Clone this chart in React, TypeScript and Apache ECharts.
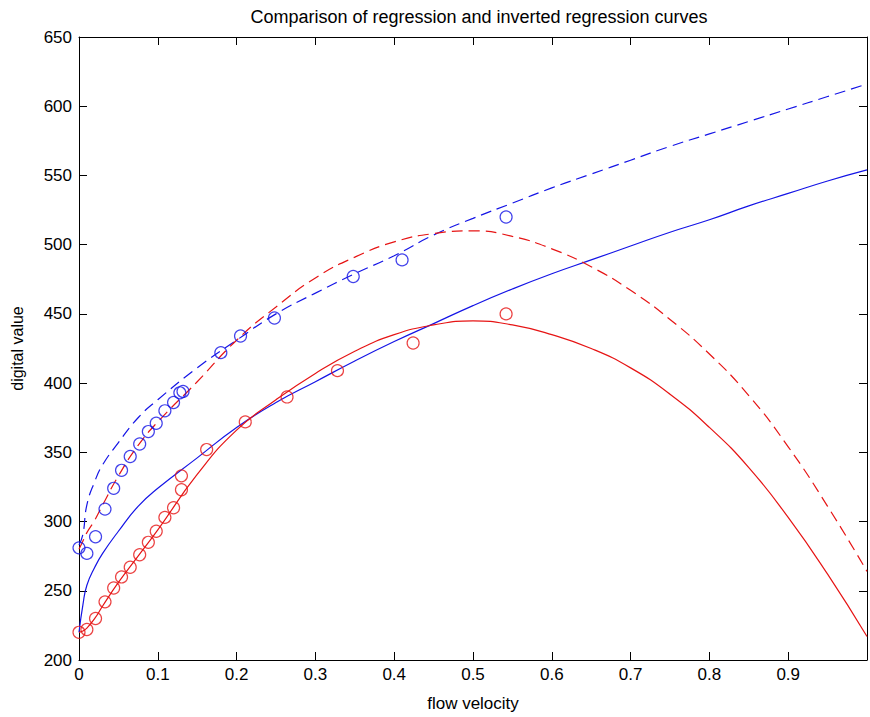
import React, { useEffect, useRef } from "react";
import * as echarts from "echarts";

// Curve sampling positions (flow velocity)
const curveX = [0, 0.005, 0.01, 0.02, 0.03, 0.05, 0.075, 0.1, 0.15, 0.2, 0.25, 0.3, 0.35, 0.4, 0.45, 0.5, 0.55, 0.6, 0.65, 0.7, 0.75, 0.8, 0.85, 0.9, 0.95, 1.0];
// Regression curves
const blueSolid = [220, 240, 254, 267, 277, 293, 311, 324, 346, 368, 386, 401, 416, 430, 443, 456, 468, 479, 489, 499, 509, 518, 528, 537, 546, 554];
const blueDashed = [283, 291, 312, 329, 341, 357, 375, 388, 411, 431, 450, 465, 479, 492, 507, 519, 530, 541, 551, 561, 571, 580, 589, 598, 607, 616];
const redSolid = [220, 221, 223, 230, 239, 256, 275, 294, 334, 366, 388, 407, 423, 435, 442, 445, 442, 435, 425, 411, 392, 368, 339, 303, 262, 217];
const redDashed = [280, 286, 292, 301, 312, 333, 355, 372, 401, 431, 455, 476, 491, 502, 508, 510, 506, 497, 484, 467, 446, 421, 391, 354, 311, 264];

// Measured points
const blueX = [0, 0.01, 0.021, 0.033, 0.044, 0.054, 0.065, 0.077, 0.088, 0.098, 0.109, 0.12, 0.128, 0.132, 0.18, 0.205, 0.248, 0.348, 0.41, 0.542];
const blueY = [281, 277, 289, 309, 324, 337, 347, 356, 365, 371, 380, 386, 393, 394, 422, 434, 447, 477, 489, 520];
const redX = [0, 0.01, 0.021, 0.033, 0.044, 0.054, 0.065, 0.077, 0.088, 0.098, 0.109, 0.12, 0.13, 0.13, 0.162, 0.211, 0.264, 0.328, 0.424, 0.542];
const redY = [220, 222, 230, 242, 252, 260, 267, 276, 285, 293, 303, 310, 323, 333, 352, 372, 390, 409, 429, 450];

const BLUE = "#1414e6";
const RED = "#e61414";
const FONT = "Liberation Sans";

const pairs = (xs: number[], ys: number[]) => xs.map((x, i) => [x, ys[i]]);

export default function App() {
  const ref = useRef<HTMLDivElement>(null);
  useEffect(() => {
    if (!ref.current) return;
    const chart = echarts.init(ref.current, undefined, { renderer: "svg" });
    const axisLine = { show: true, onZero: false, lineStyle: { color: "#000", width: 1 } };
    const axisTick = { show: true, inside: true, length: 8, lineStyle: { color: "#000", width: 1 } };
    const lineSeries = (data: number[], color: string, dashed: boolean) => ({
      type: "line",
      data: pairs(curveX, data),
      showSymbol: false,
      symbol: "none",
      smooth: 0.5,
      lineStyle: { color, width: 1.2, type: dashed ? [11, 6] : "solid" },
      z: 2,
    });
    const scatterSeries = (xs: number[], ys: number[], color: string) => ({
      type: "scatter",
      data: pairs(xs, ys),
      symbol: "circle",
      symbolSize: 12,
      itemStyle: { color: "rgba(0,0,0,0)", borderColor: color, borderWidth: 1.2 },
      z: 3,
    });
    chart.setOption({
      animation: false,
      backgroundColor: "#fff",
      textStyle: { fontFamily: FONT },
      title: {
        text: "Comparison of regression and inverted regression curves",
        left: 474,
        textAlign: "center",
        top: 3,
        textStyle: { fontFamily: FONT, fontSize: 18, fontWeight: "normal", color: "#000" },
      },
      grid: { left: 79, top: 37, width: 795, height: 626 },
      xAxis: [
        {
          type: "value",
          min: 0,
          max: 1,
          interval: 0.1,
          position: "bottom",
          axisLine,
          axisTick,
          splitLine: { show: false },
          axisLabel: {
            color: "#000",
            fontSize: 17,
            fontFamily: FONT,
            margin: 6,
            formatter: (v: number) => (v >= 0.999 ? "" : String(Math.round(v * 10) / 10)),
          },
          name: "flow velocity",
          nameLocation: "middle",
          nameGap: 35,
          nameTextStyle: { color: "#000", fontSize: 17, fontFamily: FONT },
        },
        {
          type: "value",
          min: 0,
          max: 1,
          interval: 0.1,
          position: "top",
          axisLine,
          axisTick,
          splitLine: { show: false },
          axisLabel: { show: false },
        },
      ],
      yAxis: [
        {
          type: "value",
          min: 200,
          max: 650,
          interval: 50,
          position: "left",
          axisLine,
          axisTick,
          splitLine: { show: false },
          axisLabel: { color: "#000", fontSize: 17, fontFamily: FONT, margin: 7 },
          name: "digital value",
          nameLocation: "middle",
          nameGap: 54,
          nameTextStyle: { color: "#000", fontSize: 16, fontFamily: FONT },
        },
        {
          type: "value",
          min: 200,
          max: 650,
          interval: 50,
          position: "right",
          axisLine,
          axisTick,
          splitLine: { show: false },
          axisLabel: { show: false },
        },
      ],
      series: [
        lineSeries(blueDashed, BLUE, true),
        lineSeries(blueSolid, BLUE, false),
        lineSeries(redDashed, RED, true),
        lineSeries(redSolid, RED, false),
        scatterSeries(blueX, blueY, BLUE),
        scatterSeries(redX, redY, RED),
      ],
    });
    return () => chart.dispose();
  }, []);
  return <div ref={ref} style={{ width: 870, height: 717, position: "fixed", left: 0, top: 0 }} />;
}
